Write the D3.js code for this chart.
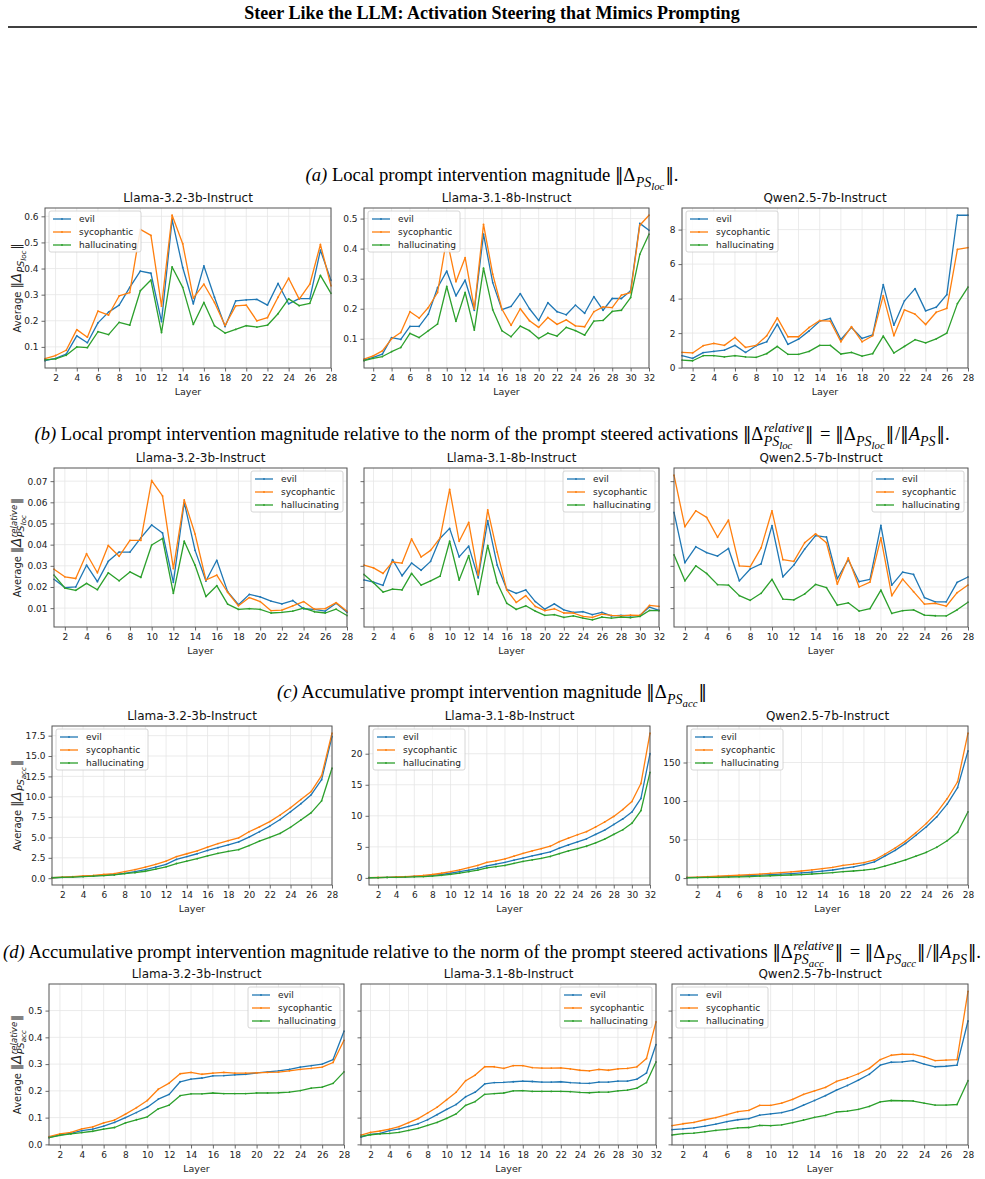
<!DOCTYPE html>
<html>
<head>
<meta charset="utf-8">
<script src="https://cdn.jsdelivr.net/npm/d3@7"></script>
<style>
  body { margin: 0; background: #fff; }
  svg text { font-family: "DejaVu Sans", sans-serif; }
</style>
</head>
<body>
<svg id="fig" width="985" height="1179"></svg>
<script>
// ---- data ----
const seriesNames = ["evil", "sycophantic", "hallucinating"];
const modelNames = ["Llama-3.2-3b-Instruct", "Llama-3.1-8b-Instruct", "Qwen2.5-7b-Instruct"];
const seriesColors = ["#1f77b4", "#ff7f0e", "#2ca02c"];

// (a) local magnitude
const locL32Evil = [0.047,0.056,0.072,0.142,0.116,0.192,0.233,0.26,0.328,0.39,0.382,0.197,0.587,0.404,0.265,0.41,0.29,0.178,0.276,0.28,0.282,0.26,0.343,0.265,0.285,0.285,0.47,0.355];
const locL32Syc = [0.055,0.067,0.087,0.166,0.137,0.237,0.222,0.295,0.308,0.55,0.527,0.256,0.604,0.495,0.287,0.34,0.27,0.182,0.257,0.26,0.2,0.212,0.29,0.363,0.283,0.34,0.492,0.334];
const locL32Hal = [0.05,0.054,0.068,0.1,0.097,0.158,0.147,0.194,0.183,0.315,0.356,0.155,0.406,0.328,0.186,0.27,0.181,0.153,0.167,0.181,0.176,0.183,0.227,0.284,0.258,0.267,0.374,0.305];
const locL31Evil = [0.029,0.038,0.049,0.104,0.098,0.141,0.141,0.182,0.27,0.325,0.243,0.295,0.195,0.448,0.287,0.197,0.208,0.25,0.2,0.161,0.22,0.19,0.18,0.212,0.185,0.24,0.195,0.234,0.234,0.26,0.484,0.461];
const locL31Syc = [0.032,0.043,0.06,0.1,0.121,0.19,0.169,0.204,0.254,0.434,0.29,0.37,0.2,0.481,0.315,0.199,0.145,0.2,0.16,0.138,0.171,0.148,0.163,0.143,0.14,0.19,0.206,0.204,0.245,0.254,0.478,0.511];
const locL31Hal = [0.027,0.035,0.041,0.057,0.071,0.118,0.104,0.127,0.149,0.274,0.158,0.254,0.129,0.335,0.197,0.127,0.107,0.142,0.127,0.101,0.119,0.109,0.138,0.127,0.112,0.159,0.161,0.191,0.195,0.237,0.381,0.448];
const locQwEvil = [0.69,0.54,0.87,0.94,1.02,1.29,0.88,1.27,1.5,2.52,1.35,1.65,2.13,2.69,2.85,1.63,2.33,1.69,1.9,4.81,2.46,3.87,4.58,3.29,3.5,4.23,8.83,8.83];
const locQwSyc = [0.88,0.85,1.27,1.4,1.29,1.75,1.17,1.29,1.85,2.88,1.79,1.79,2.33,2.73,2.69,1.5,2.38,1.5,1.85,4.17,1.85,3.35,3.1,2.5,3.21,3.44,6.85,6.96];
const locQwHal = [0.44,0.4,0.69,0.69,0.62,0.69,0.62,0.6,0.81,1.23,0.77,0.77,0.94,1.29,1.29,0.79,0.88,0.67,0.81,1.83,0.85,1.23,1.62,1.44,1.67,2.0,3.71,4.67];

// (b) local magnitude relative
const relL32Evil = [0.0236,0.0197,0.02,0.0303,0.0225,0.0321,0.0365,0.0365,0.0432,0.0493,0.0455,0.0222,0.06,0.0373,0.0228,0.0326,0.0178,0.0116,0.0165,0.0153,0.0133,0.012,0.0136,0.0097,0.0094,0.0086,0.0123,0.008];
const relL32Syc = [0.0284,0.0248,0.024,0.0357,0.0267,0.0396,0.0345,0.042,0.042,0.0703,0.063,0.0287,0.0611,0.045,0.0233,0.0256,0.0175,0.0111,0.015,0.0131,0.0088,0.0091,0.0111,0.0131,0.0095,0.0098,0.0126,0.0085];
const relL32Hal = [0.0256,0.0195,0.0184,0.0217,0.0187,0.0267,0.0229,0.0271,0.0245,0.0398,0.0429,0.017,0.0416,0.0303,0.0155,0.0206,0.0119,0.0094,0.0098,0.0094,0.0077,0.008,0.0086,0.01,0.0083,0.0077,0.0095,0.0065];
const relL31Evil = [0.0233,0.0223,0.0208,0.0329,0.0253,0.0313,0.0279,0.0321,0.043,0.0477,0.0342,0.0393,0.0243,0.0513,0.0303,0.0189,0.017,0.0186,0.0131,0.0095,0.012,0.0092,0.008,0.0083,0.0069,0.008,0.0063,0.0066,0.0064,0.0066,0.0105,0.0089];
const relL31Syc = [0.0303,0.029,0.0264,0.0318,0.0313,0.0427,0.0342,0.0373,0.0432,0.0661,0.0416,0.0505,0.0256,0.0564,0.0365,0.0186,0.0127,0.0159,0.0108,0.0088,0.0097,0.0077,0.0077,0.0061,0.0056,0.0072,0.0066,0.0063,0.0067,0.0066,0.0113,0.0108];
const relL31Hal = [0.0259,0.022,0.0176,0.019,0.0186,0.0264,0.0209,0.0229,0.0251,0.0416,0.0233,0.0348,0.0165,0.0396,0.022,0.0123,0.0094,0.0111,0.0086,0.0066,0.0069,0.0056,0.0063,0.0053,0.0045,0.0058,0.0053,0.0058,0.0055,0.0061,0.0089,0.0088];
const relQwEvil = [0.0552,0.0315,0.039,0.0362,0.0346,0.0382,0.0229,0.0285,0.0309,0.049,0.0248,0.0303,0.0379,0.0443,0.0436,0.0239,0.0329,0.0225,0.0236,0.0491,0.0209,0.027,0.0259,0.015,0.013,0.013,0.0222,0.0247];
const relQwSyc = [0.0728,0.0485,0.056,0.0529,0.0435,0.0516,0.03,0.0296,0.0385,0.056,0.0329,0.0321,0.0409,0.0451,0.0409,0.0214,0.0337,0.02,0.0223,0.0432,0.0159,0.0237,0.0178,0.0119,0.0123,0.0109,0.0173,0.0209];
const relQwHal = [0.0352,0.0229,0.03,0.0264,0.0211,0.0209,0.0159,0.0137,0.017,0.0236,0.0143,0.0139,0.0167,0.0212,0.0197,0.0114,0.0125,0.0086,0.0098,0.0185,0.0075,0.0088,0.0092,0.0067,0.0064,0.0063,0.0092,0.0128];

// (c) accumulative magnitude
const accL32Evil = [0.05,0.1,0.15,0.22,0.28,0.37,0.45,0.6,0.8,1.05,1.35,1.7,2.3,2.65,3.0,3.4,3.75,4.1,4.45,5.05,5.7,6.4,7.2,8.15,9.15,10.25,12.1,17.4];
const accL32Syc = [0.05,0.12,0.18,0.28,0.35,0.45,0.55,0.8,1.05,1.35,1.7,2.1,2.65,3.0,3.35,3.8,4.25,4.6,4.95,5.7,6.3,6.95,7.75,8.65,9.65,10.65,12.6,17.8];
const accL32Hal = [0.05,0.1,0.14,0.2,0.25,0.32,0.4,0.55,0.68,0.85,1.1,1.4,1.8,2.1,2.4,2.75,3.05,3.3,3.5,4.0,4.55,5.0,5.5,6.25,7.15,8.05,9.5,13.5];
const accL31Evil = [0.02,0.05,0.08,0.12,0.17,0.23,0.3,0.4,0.55,0.75,1.0,1.25,1.55,1.95,2.2,2.5,2.85,3.2,3.55,3.85,4.2,4.8,5.3,5.8,6.3,7.0,7.7,8.6,9.5,10.6,12.8,20.0];
const accL31Syc = [0.03,0.06,0.1,0.15,0.22,0.3,0.4,0.55,0.75,1.0,1.3,1.65,2.0,2.5,2.75,3.05,3.5,3.95,4.35,4.7,5.1,5.85,6.4,6.95,7.45,8.2,9.0,9.9,11.0,12.3,15.2,23.3];
const accL31Hal = [0.02,0.04,0.07,0.1,0.13,0.17,0.22,0.3,0.42,0.58,0.78,1.0,1.25,1.6,1.8,2.0,2.35,2.65,2.9,3.15,3.45,3.9,4.35,4.7,5.1,5.65,6.25,7.0,7.75,8.8,10.85,17.0];
const accQwEvil = [0.7,1.0,1.4,1.8,2.2,2.7,3.2,3.8,4.5,5.2,5.9,6.7,7.7,9.0,10.5,12.5,14.5,17.5,21.0,28.5,36.0,45.0,55.5,66.5,79.5,96.0,117.5,165.0];
const accQwSyc = [0.9,1.3,1.8,2.4,3.0,3.7,4.4,5.2,6.2,7.2,8.1,9.2,10.6,12.2,14.0,16.5,18.0,20.0,23.5,31.0,39.0,48.0,59.0,71.0,85.0,103.0,125.0,188.0];
const accQwHal = [0.4,0.6,0.8,1.0,1.3,1.6,2.0,2.5,3.0,3.5,4.0,4.6,5.3,6.2,7.2,8.3,9.2,10.2,12.0,15.5,19.5,23.5,28.5,33.5,40.0,48.5,59.5,86.0];

// (d) accumulative magnitude relative
const accRelL32Evil = [0.026,0.035,0.041,0.051,0.057,0.068,0.082,0.1,0.119,0.139,0.169,0.187,0.234,0.244,0.248,0.256,0.257,0.26,0.262,0.267,0.271,0.275,0.28,0.289,0.294,0.3,0.317,0.423];
const accRelL32Syc = [0.029,0.039,0.045,0.058,0.065,0.08,0.091,0.113,0.137,0.164,0.206,0.229,0.264,0.269,0.262,0.266,0.269,0.266,0.266,0.267,0.269,0.27,0.275,0.28,0.284,0.289,0.306,0.389];
const accRelL32Hal = [0.025,0.034,0.039,0.044,0.049,0.057,0.063,0.08,0.092,0.103,0.133,0.147,0.182,0.189,0.189,0.192,0.19,0.19,0.19,0.192,0.192,0.193,0.195,0.201,0.21,0.214,0.228,0.271];
const accRelL31Evil = [0.027,0.037,0.041,0.051,0.058,0.067,0.077,0.092,0.111,0.131,0.149,0.178,0.195,0.226,0.231,0.232,0.234,0.236,0.235,0.233,0.233,0.234,0.231,0.229,0.228,0.233,0.233,0.236,0.236,0.244,0.267,0.373];
const accRelL31Syc = [0.035,0.045,0.05,0.057,0.066,0.081,0.096,0.117,0.139,0.167,0.195,0.238,0.259,0.29,0.29,0.284,0.294,0.294,0.287,0.285,0.285,0.286,0.282,0.277,0.275,0.28,0.277,0.282,0.284,0.29,0.321,0.458];
const accRelL31Hal = [0.03,0.036,0.039,0.041,0.045,0.052,0.06,0.071,0.082,0.097,0.114,0.146,0.16,0.187,0.19,0.192,0.2,0.201,0.198,0.198,0.198,0.198,0.197,0.194,0.193,0.195,0.195,0.2,0.203,0.21,0.231,0.308];
const accRelQwEvil = [0.055,0.058,0.062,0.068,0.076,0.085,0.092,0.096,0.109,0.114,0.119,0.129,0.147,0.164,0.182,0.203,0.22,0.24,0.262,0.296,0.307,0.308,0.313,0.3,0.29,0.292,0.296,0.461];
const accRelQwSyc = [0.07,0.077,0.082,0.092,0.1,0.111,0.122,0.127,0.146,0.146,0.154,0.168,0.187,0.2,0.213,0.235,0.248,0.264,0.284,0.317,0.333,0.337,0.336,0.327,0.313,0.315,0.317,0.572];
const accRelQwHal = [0.035,0.04,0.042,0.047,0.052,0.056,0.062,0.063,0.071,0.07,0.073,0.081,0.091,0.101,0.108,0.121,0.124,0.131,0.142,0.159,0.164,0.163,0.162,0.154,0.147,0.147,0.149,0.238];

// y tick values per panel
const ticksLocL32 = [0.1, 0.2, 0.3, 0.4, 0.5, 0.6];
const ticksLocL31 = [0.1, 0.2, 0.3, 0.4, 0.5];
const ticksLocQw = [0, 2, 4, 6, 8];
const ticksRel = [0.01, 0.02, 0.03, 0.04, 0.05, 0.06, 0.07];
const ticksAccL32 = [0, 2.5, 5, 7.5, 10, 12.5, 15, 17.5];
const ticksAccL31 = [0, 5, 10, 15, 20];
const ticksAccQw = [0, 50, 100, 150];
const ticksAccRel = [0, 0.1, 0.2, 0.3, 0.4, 0.5];

const svg = d3.select("#fig");
const serif = '"Liberation Serif", "DejaVu Serif", serif';
const barFont = '"DejaVu Sans", sans-serif';

// write text with sub/superscripts as tspans
function mathText(txt, parts) {
  const base = parseFloat(txt.attr("font-size"));
  let cur = 0, supLen = 0, subLen = 0;
  parts.forEach(p => {
    const ts = txt.append("tspan").text(p.t);
    const sh = p.sh || 0;
    ts.attr("dy", sh - cur); cur = sh;
    if (p.s) ts.attr("font-size", base * p.s);
    if (p.it) ts.attr("font-style", "italic");
    if (p.ff) ts.style("font-family", p.ff);
    let dx = p.dx || 0;
    if (p.rewind) dx -= supLen;
    if (p.fwd) dx += Math.max(0, supLen - subLen);
    if (dx) ts.attr("dx", dx);
    const len = ts.node().getComputedTextLength();
    if (p.sup) supLen += len;
    if (p.sub) subLen += len;
    if (p.fwd) { supLen = 0; subLen = 0; }
  });
}

// ‖Δ_{PS_sub}‖ or ‖Δ^{relative}_{PS_sub}‖
function deltaParts(sub, relative, fs, o) {
  const parts = [{ t: "‖", ff: barFont, s: o.bar }, { t: "Δ", it: o.itD, s: o.d }];
  if (relative) {
    parts.push({ t: "relative", it: true, s: o.sup, sh: -0.45 * fs, sup: true, dx: 0.5 });
    parts.push({ t: "PS", it: true, s: o.ps, sh: 0.3 * fs, sub: true, rewind: true });
    parts.push({ t: sub, it: true, s: o.ss, sh: 0.5 * fs, sub: true });
    parts.push({ t: "‖", ff: barFont, s: o.bar, fwd: true, dx: 1 });
  } else {
    parts.push({ t: "PS", it: true, s: o.ps, sh: 0.3 * fs, dx: 0.5 });
    parts.push({ t: sub, it: true, s: o.ss, sh: 0.5 * fs });
    parts.push({ t: "‖", ff: barFont, s: o.bar, dx: 1 });
  }
  return parts;
}

// header
svg.append("text").attr("x", 492).attr("y", 19).attr("text-anchor", "middle")
  .attr("font-size", 18).attr("font-weight", "bold").style("font-family", serif)
  .text("Steer Like the LLM: Activation Steering that Mimics Prompting");
svg.append("line").attr("x1", 8).attr("x2", 977).attr("y1", 27).attr("y2", 27)
  .attr("stroke", "#000").attr("stroke-width", 1.5);

// captions
const capOpt = { bar: 0.9, d: 1, itD: false, sup: 0.72, ps: 0.75, ss: 0.58 };
function caption(y, label, words, rel, sub, tail) {
  const fs = 18.6;
  const t = svg.append("text").attr("x", 492).attr("y", y).attr("text-anchor", "middle")
    .attr("font-size", fs).style("font-family", serif);
  let parts = [{ t: label, it: true }, { t: " " + words + " " }];
  parts = parts.concat(deltaParts(sub, rel, fs, capOpt));
  if (rel) {
    parts.push({ t: " = ", dx: 2 });
    parts = parts.concat(deltaParts(sub, false, fs, capOpt));
    parts.push({ t: "/", dx: 1 }, { t: "‖", ff: barFont, s: 0.9 }, { t: "A", it: true },
      { t: "PS", it: true, s: 0.75, sh: 0.3 * fs }, { t: "‖", ff: barFont, s: 0.9, dx: 1 }, { t: "." });
  } else {
    parts.push({ t: tail });
  }
  mathText(t, parts);
}
caption(181, "(a)", "Local prompt intervention magnitude", false, "loc", ".");
caption(440, "(b)", "Local prompt intervention magnitude relative to the norm of the prompt steered activations", true, "loc", "");
caption(698, "(c)", "Accumulative prompt intervention magnitude", false, "acc", "");
caption(958, "(d)", "Accumulative prompt intervention magnitude relative to the norm of the prompt steered activations", true, "acc", "");

// rows of panels
const rows = [
  { top: 208, bottom: 368, xs: [[45, 331], [364, 649], [682, 968]], share: false,
    data: [[locL32Evil, locL32Syc, locL32Hal], [locL31Evil, locL31Syc, locL31Hal], [locQwEvil, locQwSyc, locQwHal]],
    ticks: [ticksLocL32, ticksLocL31, ticksLocQw], fmt: [".1f", ".1f", "d"], legend: ["ul", "ul", "ul"],
    sub: "loc", rel: false },
  { top: 468, bottom: 627, xs: [[54, 347], [364, 659], [674, 968]], share: true,
    data: [[relL32Evil, relL32Syc, relL32Hal], [relL31Evil, relL31Syc, relL31Hal], [relQwEvil, relQwSyc, relQwHal]],
    ticks: [ticksRel, ticksRel, ticksRel], fmt: [".2f", ".2f", ".2f"], legend: ["ur", "ur", "ur"],
    sub: "loc", rel: true },
  { top: 726, bottom: 885, xs: [[52, 332], [369, 650], [687, 968]], share: false,
    data: [[accL32Evil, accL32Syc, accL32Hal], [accL31Evil, accL31Syc, accL31Hal], [accQwEvil, accQwSyc, accQwHal]],
    ticks: [ticksAccL32, ticksAccL31, ticksAccQw], fmt: [".1f", "d", "d"], legend: ["ul", "ul", "ul"],
    sub: "acc", rel: false },
  { top: 984, bottom: 1145, xs: [[49, 344], [361, 656], [672, 968]], share: true,
    data: [[accRelL32Evil, accRelL32Syc, accRelL32Hal], [accRelL31Evil, accRelL31Syc, accRelL31Hal], [accRelQwEvil, accRelQwSyc, accRelQwHal]],
    ticks: [ticksAccRel, ticksAccRel, ticksAccRel], fmt: [".1f", ".1f", ".1f"], legend: ["ur", "ur", "ul"],
    sub: "acc", rel: true }
];

function padded(vals) {
  const [lo, hi] = d3.extent(vals);
  const m = (hi - lo) * 0.05;
  return [lo - m, hi + m];
}

const labOpt = { bar: 1.2, d: 1.35, itD: true, sup: 0.85, ps: 0.95, ss: 0.72 };

rows.forEach(row => {
  const shared = padded(row.data.flat(2));
  row.data.forEach((lines, pi) => {
    const [x0, x1] = row.xs[pi];
    const y0 = row.top, y1 = row.bottom;
    const n = lines[0].length;
    const x = d3.scaleLinear().domain([1, n]).range([x0, x1]);
    const y = d3.scaleLinear().domain(row.share ? shared : padded(lines.flat())).range([y1, y0]);
    const xt = d3.range(2, n + 1, 2);
    const yt = row.ticks[pi];
    const g = svg.append("g");

    // grid
    g.selectAll(".gx").data(xt).join("line")
      .attr("x1", d => x(d)).attr("x2", d => x(d)).attr("y1", y0).attr("y2", y1)
      .attr("stroke", "#e6e6e6").attr("stroke-width", 0.8);
    g.selectAll(".gy").data(yt).join("line")
      .attr("x1", x0).attr("x2", x1).attr("y1", d => y(d)).attr("y2", d => y(d))
      .attr("stroke", "#e6e6e6").attr("stroke-width", 0.8);

    // axes
    const ax = g.append("g").attr("transform", `translate(0,${y1})`)
      .call(d3.axisBottom(x).tickValues(xt).tickSize(3.5).tickPadding(3));
    const showY = !row.share || pi === 0;
    const ay = g.append("g").attr("transform", `translate(${x0},0)`)
      .call(d3.axisLeft(y).tickValues(yt).tickSize(3.5).tickPadding(3)
        .tickFormat(showY ? d3.format(row.fmt[pi]) : ""));
    [ax, ay].forEach(a => {
      a.select(".domain").remove();
      a.attr("font-family", null).attr("font-size", 9);
      a.selectAll("text").attr("fill", "#222");
      a.selectAll("line").attr("stroke", "#444").attr("stroke-width", 0.8);
    });

    // lines
    const line = d3.line().x((d, i) => x(i + 1)).y(d => y(d));
    lines.forEach((vals, si) => {
      g.append("path").datum(vals).attr("d", line)
        .attr("fill", "none").attr("stroke", seriesColors[si]).attr("stroke-width", 1.3)
        .attr("stroke-linejoin", "round");
      g.selectAll(".m" + si).data(vals).join("circle")
        .attr("cx", (d, i) => x(i + 1)).attr("cy", d => y(d)).attr("r", 0.9)
        .attr("fill", seriesColors[si]);
    });

    // frame
    g.append("rect").attr("x", x0).attr("y", y0).attr("width", x1 - x0).attr("height", y1 - y0)
      .attr("fill", "none").attr("stroke", "#555").attr("stroke-width", 1);

    // title and x label
    g.append("text").attr("x", (x0 + x1) / 2).attr("y", y0 - 6).attr("text-anchor", "middle")
      .attr("font-size", 12).attr("fill", "#111").text(modelNames[pi]);
    g.append("text").attr("x", (x0 + x1) / 2).attr("y", y1 + 27).attr("text-anchor", "middle")
      .attr("font-size", 9.5).attr("fill", "#222").text("Layer");

    // y label on first panel
    if (pi === 0) {
      const yl = g.append("text").attr("font-size", 10).attr("fill", "#222")
        .attr("text-anchor", "middle")
        .attr("transform", `translate(21,${(y0 + y1) / 2}) rotate(-90)`);
      mathText(yl, [{ t: "Average " }].concat(deltaParts(row.sub, row.rel, 10, labOpt)));
    }

    // legend
    const lw = 92, lh = 41;
    const lx = row.legend[pi] === "ul" ? x0 + 4 : x1 - 4 - lw;
    const ly = y0 + 3;
    const lg = g.append("g").attr("transform", `translate(${lx},${ly})`);
    lg.append("rect").attr("width", lw).attr("height", lh).attr("rx", 2)
      .attr("fill", "#fff").attr("fill-opacity", 0.85).attr("stroke", "#ccc").attr("stroke-width", 0.8);
    seriesNames.forEach((s, si) => {
      const yy = 8 + si * 13;
      lg.append("line").attr("x1", 4).attr("x2", 22).attr("y1", yy).attr("y2", yy)
        .attr("stroke", seriesColors[si]).attr("stroke-width", 1.3);
      lg.append("circle").attr("cx", 13).attr("cy", yy).attr("r", 0.9).attr("fill", seriesColors[si]);
      lg.append("text").attr("x", 30).attr("y", yy + 3.2).attr("font-size", 9).attr("fill", "#222").text(s);
    });
  });
});
</script>
</body>
</html>
